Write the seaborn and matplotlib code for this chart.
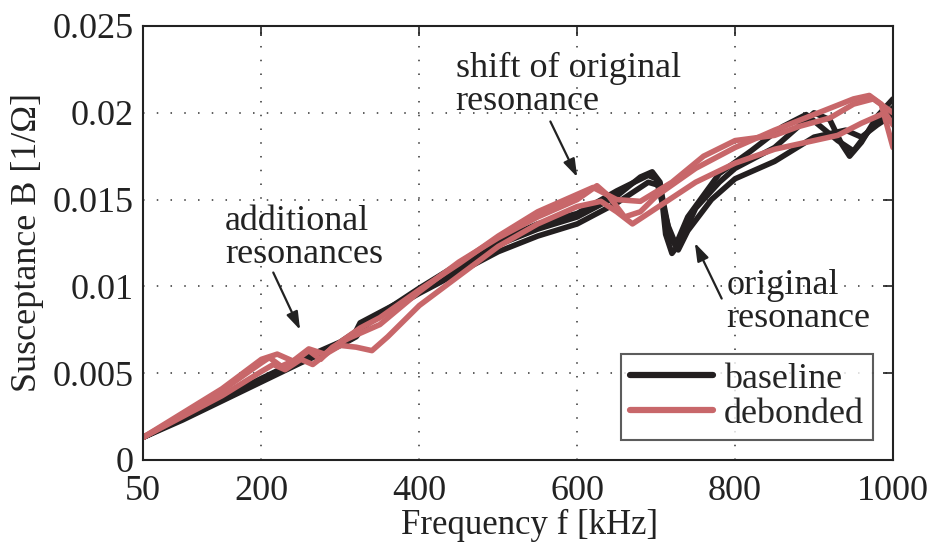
import numpy as np
import pandas as pd
import matplotlib
matplotlib.use("Agg")
import matplotlib.pyplot as plt
import seaborn as sns
from matplotlib.lines import Line2D

# ---------------- data ----------------
f_b1 = [50, 100, 150, 200, 250, 300, 315, 325, 350, 400, 450, 500, 550, 600, 650, 680, 695, 705, 712, 720, 730, 750, 780, 800, 850, 880, 900, 920, 935, 945, 960, 980, 1000]
B_b1 = [0.0013, 0.0024, 0.0035, 0.0046, 0.0057, 0.0067, 0.0070, 0.0079, 0.0085, 0.0097, 0.0111, 0.0124, 0.0133, 0.0140, 0.0152, 0.0163, 0.0166, 0.0160, 0.0130, 0.0119, 0.0125, 0.0145, 0.0160, 0.0168, 0.0180, 0.0192, 0.0200, 0.0196, 0.0182, 0.0175, 0.0183, 0.0198, 0.0208]

f_b2 = [50, 100, 150, 200, 250, 300, 320, 330, 350, 400, 450, 500, 550, 600, 650, 690, 705, 718, 728, 740, 770, 800, 850, 900, 940, 960, 980, 1000]
B_b2 = [0.0013, 0.0023, 0.0034, 0.0045, 0.0056, 0.0066, 0.0071, 0.0077, 0.0083, 0.0096, 0.0108, 0.0120, 0.0129, 0.0136, 0.0148, 0.0160, 0.0158, 0.0128, 0.0121, 0.0132, 0.0150, 0.0162, 0.0172, 0.0186, 0.0190, 0.0186, 0.0193, 0.0199]

f_b3 = [50, 100, 150, 200, 250, 300, 320, 340, 400, 450, 500, 550, 600, 650, 690, 700, 715, 725, 740, 780, 820, 860, 890, 930, 950, 970, 1000]
B_b3 = [0.0013, 0.0024, 0.0036, 0.0047, 0.0058, 0.0068, 0.0074, 0.0081, 0.0099, 0.0113, 0.0126, 0.0136, 0.0142, 0.0155, 0.0164, 0.0162, 0.0135, 0.0124, 0.0140, 0.0165, 0.0178, 0.0192, 0.0199, 0.0184, 0.0178, 0.0190, 0.0203]

f_r1 = [50, 100, 150, 200, 210, 225, 245, 260, 275, 290, 310, 330, 350, 400, 450, 500, 550, 600, 625, 640, 660, 680, 700, 750, 800, 850, 900, 950, 970, 985, 1000]
B_r1 = [0.0013, 0.0026, 0.0040, 0.0056, 0.0059, 0.0054, 0.0058, 0.0063, 0.0058, 0.0065, 0.0070, 0.0074, 0.0078, 0.0097, 0.0114, 0.0128, 0.0140, 0.0150, 0.0158, 0.0152, 0.0140, 0.0143, 0.0152, 0.0168, 0.0180, 0.0190, 0.0199, 0.0208, 0.0210, 0.0205, 0.0180]

f_r2 = [50, 100, 150, 200, 215, 230, 250, 265, 285, 300, 320, 340, 360, 380, 400, 450, 500, 550, 600, 630, 650, 670, 700, 750, 800, 850, 900, 930, 960, 990, 1000]
B_r2 = [0.0013, 0.0025, 0.0037, 0.0051, 0.0055, 0.0052, 0.0058, 0.0055, 0.0062, 0.0066, 0.0065, 0.0063, 0.0071, 0.0080, 0.0089, 0.0106, 0.0123, 0.0136, 0.0146, 0.0149, 0.0143, 0.0136, 0.0145, 0.0160, 0.0171, 0.0179, 0.0184, 0.0187, 0.0194, 0.0200, 0.0193]

f_r3 = [50, 100, 150, 200, 220, 240, 260, 280, 300, 325, 350, 400, 450, 500, 550, 600, 620, 650, 680, 720, 760, 800, 850, 880, 920, 950, 975, 1000]
B_r3 = [0.0013, 0.0027, 0.0041, 0.0058, 0.0061, 0.0057, 0.0064, 0.0061, 0.0068, 0.0076, 0.0082, 0.0098, 0.0113, 0.0129, 0.0143, 0.0153, 0.0157, 0.0150, 0.0149, 0.0160, 0.0175, 0.0184, 0.0187, 0.0192, 0.0197, 0.0205, 0.0208, 0.0200]

x_ticks = [50, 200, 400, 600, 800, 1000]
y_ticks = [0, 0.005, 0.01, 0.015, 0.02, 0.025]
y_tick_labels = ["0", "0.005", "0.01", "0.015", "0.02", "0.025"]
series_names = ["baseline", "debonded"]

# ---------------- build table ----------------
rows = []
for run, (state, fs, bs) in enumerate([
        ("baseline", f_b1, B_b1), ("baseline", f_b2, B_b2), ("baseline", f_b3, B_b3),
        ("debonded", f_r1, B_r1), ("debonded", f_r2, B_r2), ("debonded", f_r3, B_r3)]):
    for f, b in zip(fs, bs):
        rows.append({"f": f, "B": b, "state": state, "run": run})
df = pd.DataFrame(rows)

sns.set_theme(style="white")
plt.rcParams["font.family"] = ["Liberation Serif", "DejaVu Serif"]
plt.rcParams["mathtext.fontset"] = "dejavuserif"

BLACK = "#231f20"
RED = "#c8676a"
palette = {"baseline": BLACK, "debonded": RED}

fig = plt.figure(figsize=(9.29, 5.43), dpi=100)
ax = fig.add_axes([143 / 929, 83 / 543, 750 / 929, 434 / 543])

sns.lineplot(data=df, x="f", y="B", hue="state", units="run", estimator=None,
             palette=palette, linewidth=4.0, sort=False, ax=ax, legend=False)
for ln in ax.get_lines():
    ln.set_solid_joinstyle("round")
    ln.set_solid_capstyle("round")

ax.set_xlim(50, 1000)
ax.set_ylim(0, 0.025)
ax.set_xticks(x_ticks)
ax.set_xticklabels([str(v) for v in x_ticks])
ax.set_yticks(y_ticks)
ax.set_yticklabels(y_tick_labels)

FS = 26
tc = "#222222"
ax.tick_params(axis="both", which="both", direction="in", length=7, width=1.2,
               top=True, right=True, labelsize=FS, colors=tc)
ax.tick_params(axis="x", pad=11)
ax.tick_params(axis="y", pad=7)
for s in ax.spines.values():
    s.set_color(tc)
    s.set_linewidth(1.5)
ax.grid(True, color="#333333", linestyle=(0, (1, 8)), linewidth=1.1)
ax.set_axisbelow(True)

ax.set_xlabel("Frequency f [kHz]", fontsize=25, color=tc, labelpad=0)
ax.xaxis.set_label_coords(0.515, -0.112)
ax.set_ylabel("Susceptance B [1/Ω]", fontsize=FS, color=tc, labelpad=6)

handles = [Line2D([], [], color=BLACK, lw=4.5), Line2D([], [], color=RED, lw=4.5)]
leg = ax.legend(handles, series_names, loc="lower right", fontsize=FS,
                frameon=True, fancybox=False, edgecolor="#333333",
                handlelength=2.3, handletextpad=0.3, borderpad=0.25,
                labelspacing=0.05, borderaxespad=0.55)
leg.get_frame().set_linewidth(1.5)

ax.text(154, 0.01135, "additional\nresonances", fontsize=FS, color=tc,
        ha="left", va="baseline", linespacing=1.0)
ax.text(446, 0.02016, "shift of original\nresonance", fontsize=FS, color=tc,
        ha="left", va="baseline", linespacing=1.0)
ax.text(789, 0.00766, "original\nresonance", fontsize=FS, color=tc,
        ha="left", va="baseline", linespacing=1.0)

arrowprops = dict(arrowstyle="-|>,head_length=0.9,head_width=0.3", color=tc, lw=1.6,
                  shrinkA=0, shrinkB=0)
ax.annotate("", xy=(249, 0.0075), xytext=(215, 0.0108), arrowprops=arrowprops)
ax.annotate("", xy=(600, 0.0163), xytext=(566, 0.0195), arrowprops=arrowprops)
ax.annotate("", xy=(749, 0.0125), xytext=(783, 0.0093), arrowprops=arrowprops)

fig.savefig("out.png", dpi=100, facecolor="white")
